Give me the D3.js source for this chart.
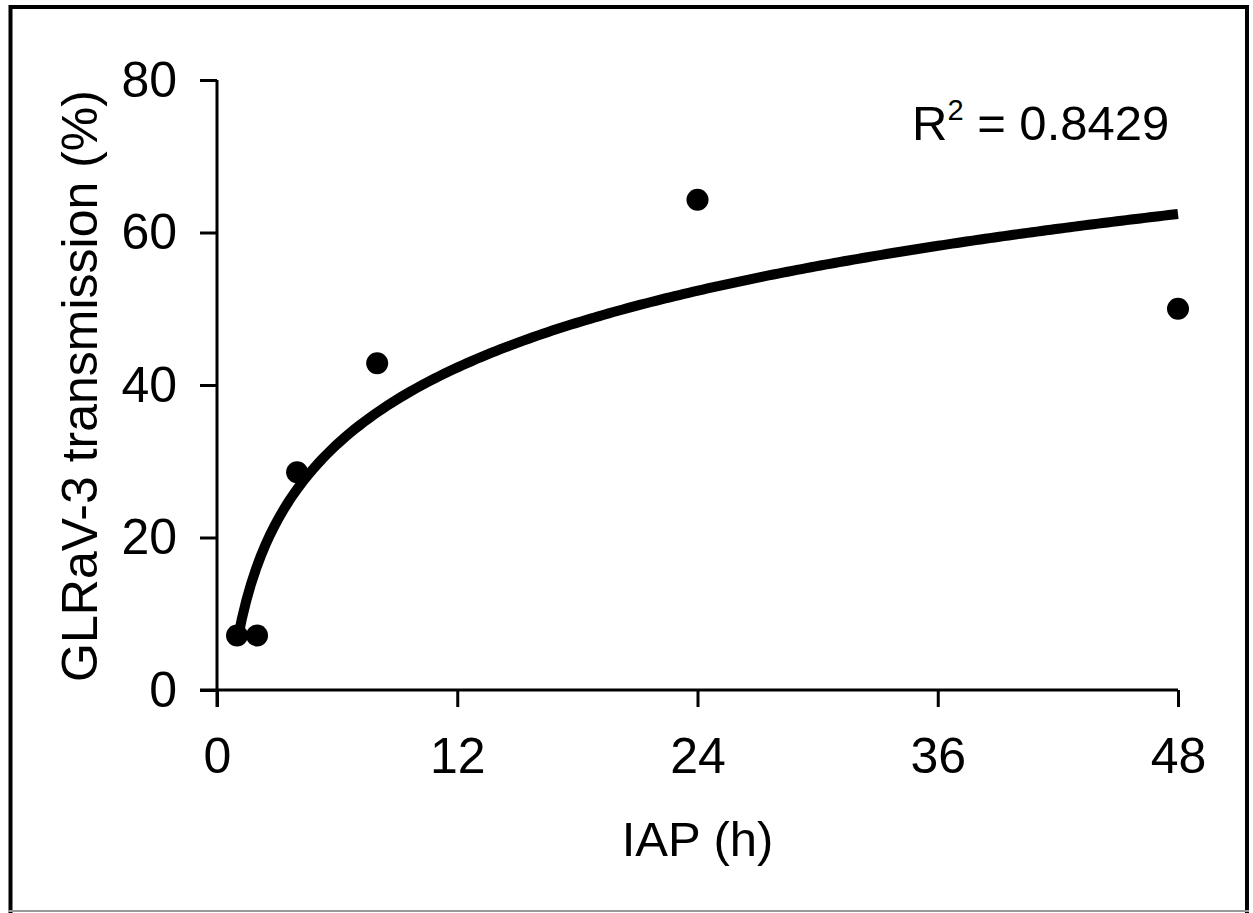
<!DOCTYPE html>
<html>
<head>
<meta charset="utf-8">
<script src="https://cdn.jsdelivr.net/npm/d3@7"></script>
<style>
  html, body { margin: 0; padding: 0; background: #fff; }
  svg { display: block; }
  text { font-family: "Liberation Sans", Arial, sans-serif; fill: #000; }
</style>
</head>
<body>
<svg id="chart" width="1253" height="913"></svg>
<script>
// ---- data ----
const iapHours = [1, 2, 4, 8, 24, 48];
const transmission = [7.14, 7.14, 28.57, 42.86, 64.29, 50.0];
const xTicks = [0, 12, 24, 36, 48];
const yTicks = [0, 20, 40, 60, 80];
const xTitle = "IAP (h)";
const yTitle = "GLRaV-3 transmission (%)";
const r2Label = "0.8429";

// ---- layout ----
const svg = d3.select("#chart");
const x = d3.scaleLinear().domain([0, 48]).range([217, 1178]);
const y = d3.scaleLinear().domain([0, 80]).range([690, 80]);
const tickLen = 17;

// frame
svg.append("rect").attr("x", 10.5).attr("y", 7).attr("width", 1236.5).attr("height", 920)
  .attr("fill", "none").attr("stroke", "#000").attr("stroke-width", 4);
svg.append("line").attr("x1", 8).attr("x2", 1249).attr("y1", 911).attr("y2", 911)
  .attr("stroke", "#999").attr("stroke-width", 2);

// axes
const gx = svg.append("g").attr("transform", `translate(0,${y(0)})`)
  .call(d3.axisBottom(x).tickValues(xTicks).tickSize(tickLen).tickSizeOuter(0).tickPadding(30));
const gy = svg.append("g").attr("transform", `translate(${x(0)},0)`)
  .call(d3.axisLeft(y).tickValues(yTicks).tickSize(tickLen).tickSizeOuter(0).tickPadding(23));
[gx, gy].forEach(g => {
  g.select(".domain").remove();
  g.selectAll(".tick line").attr("stroke", "#000").attr("stroke-width", 3);
  g.selectAll(".tick text").attr("font-size", 50).attr("font-family", "Liberation Sans, Arial, sans-serif").attr("fill", "#000");
});
gx.selectAll(".tick text").attr("dy", "0.72em");
// axis lines crossing at origin (extend by tick length)
svg.append("line").attr("x1", x(0) - tickLen).attr("x2", x(48)).attr("y1", y(0)).attr("y2", y(0))
  .attr("stroke", "#000").attr("stroke-width", 3);
svg.append("line").attr("x1", x(0)).attr("x2", x(0)).attr("y1", y(80)).attr("y2", y(0) + tickLen)
  .attr("stroke", "#000").attr("stroke-width", 3);

// titles
svg.append("text").attr("x", (x(0) + x(48)) / 2).attr("y", 856).attr("text-anchor", "middle")
  .attr("font-size", 49).text(xTitle);
svg.append("text").attr("transform", "translate(97,386) rotate(-90)")
  .attr("text-anchor", "middle").attr("font-size", 50).text(yTitle);

// logarithmic trend line (least squares on ln x)
const lx = iapHours.map(Math.log);
const mx = d3.mean(lx), my = d3.mean(transmission);
const sxy = d3.sum(lx, (v, i) => (v - mx) * (transmission[i] - my));
const sxx = d3.sum(lx, v => (v - mx) * (v - mx));
const a = sxy / sxx, b = my - a * mx;
const curve = d3.range(0, 201).map(i => {
  const xv = 1 + (47 * i) / 200;
  return [xv, a * Math.log(xv) + b];
});

// points
svg.append("g").selectAll("circle").data(iapHours).join("circle")
  .attr("cx", d => x(d)).attr("cy", (d, i) => y(transmission[i])).attr("r", 11).attr("fill", "#000");

svg.append("path").datum(curve)
  .attr("d", d3.line().x(d => x(d[0])).y(d => y(d[1])))
  .attr("fill", "none").attr("stroke", "#000").attr("stroke-width", 10);

// R² label
const t = svg.append("text").attr("x", 912).attr("y", 140).attr("font-size", 49);
t.append("tspan").text("R");
t.append("tspan").attr("font-size", 29).attr("dy", -20).text("2");
t.append("tspan").attr("dy", 20).text(" = " + r2Label);
</script>
</body>
</html>
